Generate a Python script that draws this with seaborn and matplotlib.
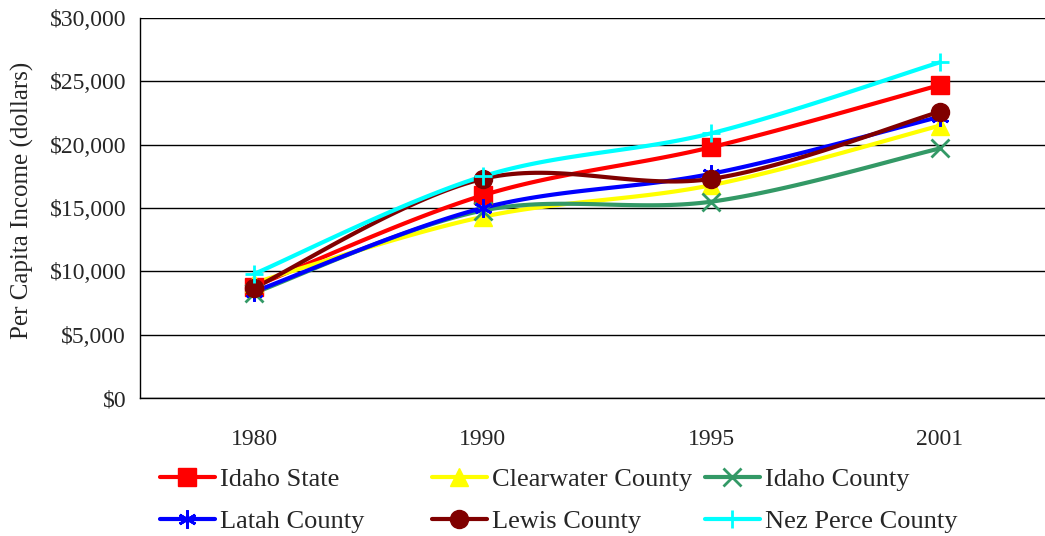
import numpy as np
import matplotlib
matplotlib.use("Agg")
import matplotlib.pyplot as plt
import seaborn as sns
from matplotlib.lines import Line2D
from matplotlib.ticker import FuncFormatter

years = ["1980", "1990", "1995", "2001"]
idaho_state = [8800, 16000, 19800, 24700]
clearwater = [9100, 14300, 16800, 21500]
idaho_county = [8300, 14800, 15500, 19700]
latah = [8400, 15000, 17700, 22200]
lewis = [8700, 17300, 17300, 22600]
nez_perce = [9800, 17500, 20900, 26500]

series = [
    ("Idaho State", idaho_state, "#FF0000", "s"),
    ("Clearwater County", clearwater, "#FFFF00", "^"),
    ("Idaho County", idaho_county, "#339966", "x"),
    ("Latah County", latah, "#0000FF", (6, 2, 0)),
    ("Lewis County", lewis, "#800000", "o"),
    ("Nez Perce County", nez_perce, "#00FFFF", "+"),
]


def smooth(values, n=40):
    """excel style bezier smoothing through the points"""
    pts = np.column_stack([np.arange(len(values)), np.asarray(values, float)])
    out = []
    t = np.linspace(0, 1, n)[:, None]
    for i in range(len(pts) - 1):
        p0 = pts[i - 1] if i > 0 else pts[i]
        p1 = pts[i]
        p2 = pts[i + 1]
        p3 = pts[i + 2] if i + 2 < len(pts) else pts[i + 1]
        c1 = p1 + (p2 - p0) / 6
        c2 = p2 - (p3 - p1) / 6
        seg = ((1 - t) ** 3) * p1 + 3 * ((1 - t) ** 2) * t * c1 + 3 * (1 - t) * t ** 2 * c2 + t ** 3 * p2
        out.append(seg if i == 0 else seg[1:])
    out = np.vstack(out)
    return out[:, 0], out[:, 1]


sns.set_style("white")
plt.rcParams["font.family"] = ["Liberation Serif", "DejaVu Serif"]

fig = plt.figure(figsize=(10.45, 5.36), dpi=100)
ax = fig.add_axes([140 / 1045, 1 - 398 / 536, 914 / 1045, 380 / 536])

for name, vals, col, mk in series:
    xs, ys = smooth(vals)
    sns.lineplot(x=xs, y=ys, color=col, lw=3, ax=ax, sort=False, estimator=None)
for name, vals, col, mk in series:
    mew = 2 if mk in ("x", "+") or isinstance(mk, tuple) else 1
    ax.plot(range(len(vals)), vals, linestyle="none", marker=mk, markersize=13,
            color=col, markeredgecolor=col, markeredgewidth=mew)

ax.set_xlim(-0.5, 3.5)
ax.set_ylim(0, 30000)
ax.set_yticks(range(0, 30001, 5000))
ax.yaxis.set_major_formatter(FuncFormatter(lambda v, p: "${:,.0f}".format(v)))
ax.set_xticks([-0.5, 0.5, 1.5, 2.5, 3.5])
ax.set_xticklabels([])
ax.set_xticks(range(4), minor=True)
ax.set_xticklabels(years, minor=True)
ax.tick_params(axis="x", which="major", length=8, width=1, direction="out", color="black")
ax.tick_params(axis="x", which="minor", length=0, pad=22, labelsize=17)
ax.tick_params(axis="y", length=6, width=1, direction="out", color="black", labelsize=17, pad=4)
ax.grid(axis="y", color="black", lw=1)
ax.set_axisbelow(True)
for s in ["top", "right"]:
    ax.spines[s].set_visible(False)
for s in ["left", "bottom"]:
    ax.spines[s].set_color("black")
    ax.spines[s].set_linewidth(1)
ax.set_ylabel("Per Capita Income (dollars)", fontsize=18)
ax.yaxis.set_label_coords((34 - 140) / 914, (398 - 200) / 380)

handles = []
for name, vals, col, mk in series:
    mew = 2 if mk in ("x", "+") or isinstance(mk, tuple) else 1
    handles.append(Line2D([], [], color=col, lw=3, marker=mk, markersize=13,
                          markeredgecolor=col, markeredgewidth=mew, label=name))

col_x = [160, 432, 705]
for c in range(3):
    hs = [handles[c], handles[c + 3]]
    leg = fig.legend(handles=hs, loc="upper left",
                     bbox_to_anchor=(col_x[c] / 1045, 1 - 468 / 536),
                     frameon=False, fontsize=19, handlelength=2.08,
                     handletextpad=0.2, labelspacing=0.69, borderpad=0, borderaxespad=0)

fig.savefig("out.png", dpi=100)
